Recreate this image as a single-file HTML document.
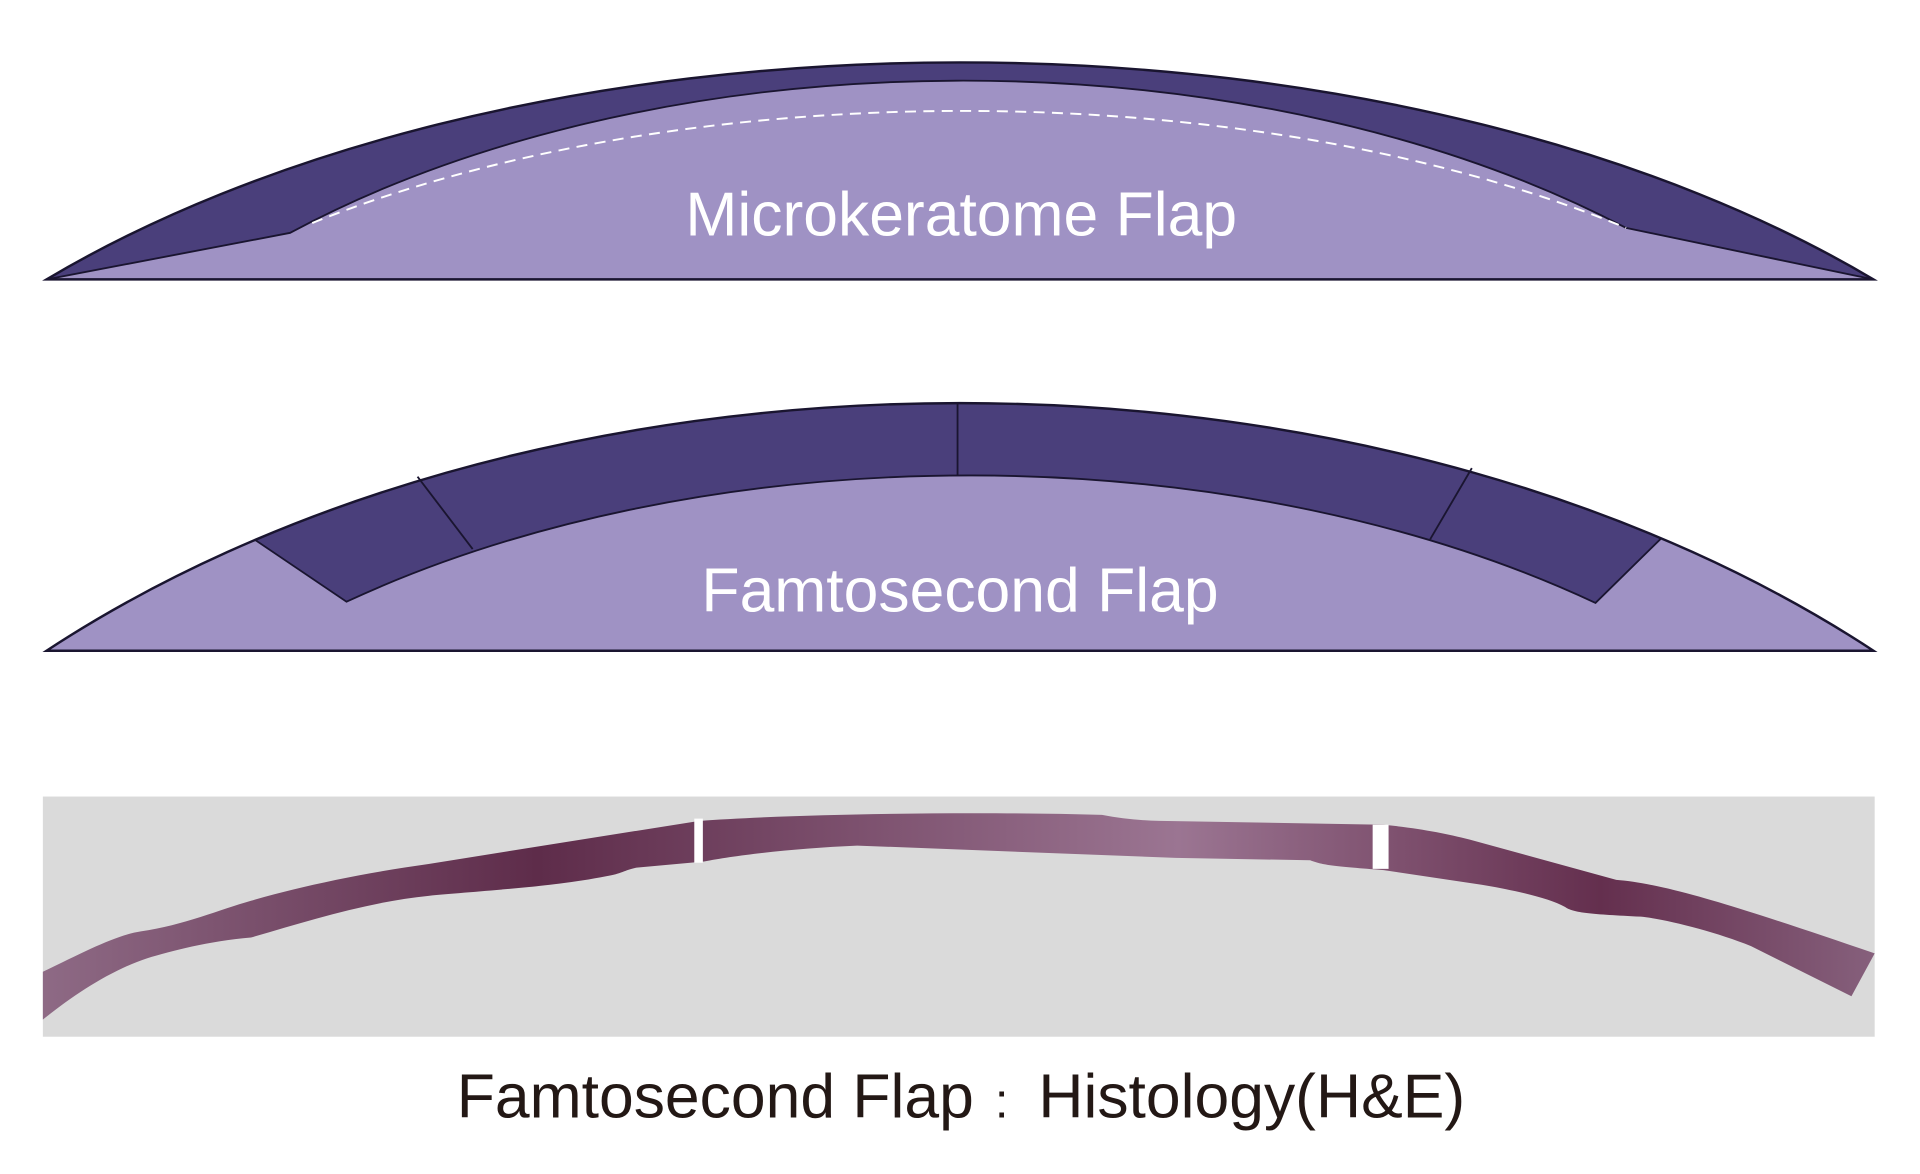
<!DOCTYPE html>
<html><head><meta charset="utf-8"><style>
html,body{margin:0;padding:0;background:#fff;}
svg{display:block}
</style></head><body>
<svg width="1920" height="1174" viewBox="0 0 1568 958" preserveAspectRatio="none" xmlns="http://www.w3.org/2000/svg">
<defs>
<clipPath id="c1"><path d="M38,228 A1000 530 0 0 1 1530,228 Z"/></clipPath>
<clipPath id="c2"><path d="M38,531 A1050 682 0 0 1 1530,531 Z"/></clipPath>
<linearGradient id="g" x1="35" y1="0" x2="1531" y2="0" gradientUnits="userSpaceOnUse">
<stop offset="0" stop-color="#8e6a85"/>
<stop offset="0.27" stop-color="#5e2c4a"/>
<stop offset="0.62" stop-color="#9b7592"/>
<stop offset="0.85" stop-color="#642f4e"/>
<stop offset="1" stop-color="#86607c"/>
</linearGradient>
</defs>
<!-- top -->
<path d="M38,228 A1000 530 0 0 1 1530,228 Z" fill="#9f92c4"/>
<path clip-path="url(#c1)" d="M38,228 L237,190 A800 455 0 0 1 1328,186 L1530,228 L1560,0 L10,0 Z" fill="#4a3f7b" stroke="#1a1530" stroke-width="1.5"/>
<path d="M38,228 A1000 530 0 0 1 1530,228 Z" fill="none" stroke="#1a1530" stroke-width="2"/>
<path d="M255,182 A800 362 0 0 1 1328,186" fill="none" stroke="#fff" stroke-width="1.6" stroke-dasharray="9,6"/>
<text x="785" y="192" text-anchor="middle" font-family="Liberation Sans, sans-serif" font-size="51" fill="#fff">Microkeratome Flap</text>
<!-- middle -->
<path d="M38,531 A1050 682 0 0 1 1530,531 Z" fill="#9f92c4"/>
<path clip-path="url(#c2)" d="M203,437 L283,491 A800 451 0 0 1 1303,492 L1360,436 L1360,250 L203,250 Z" fill="#4a3f7b" stroke="#1a1530" stroke-width="1.5"/>
<path d="M38,531 A1050 682 0 0 1 1530,531 Z" fill="none" stroke="#1a1530" stroke-width="2"/>
<line x1="341" y1="389" x2="386" y2="448" stroke="#1a1530" stroke-width="1.5"/>
<line x1="782" y1="329" x2="782" y2="388" stroke="#1a1530" stroke-width="1.5"/>
<line x1="1202" y1="382" x2="1168" y2="440" stroke="#1a1530" stroke-width="1.5"/>
<text x="784" y="499" text-anchor="middle" font-family="Liberation Sans, sans-serif" font-size="51" fill="#fff">Famtosecond Flap</text>
<!-- bottom -->
<rect x="35" y="650" width="1496" height="196" fill="#dadada"/>
<path d="M35,793 C70,776 95,763 115,760 C150,755 180,742 205,735 C250,722 300,712 350,705 L570,670 C650,664 800,662 900,665 C920,669 940,670 960,670 L1130,673 C1160,676 1180,680 1200,685 L1320,718 C1360,721 1420,740 1531,778 L1512,813 L1430,772 C1400,760 1360,750 1340,748 C1300,746 1285,745 1278,740 C1265,733 1240,727 1210,722 L1130,710 C1090,707 1080,706 1070,702 L960,700 L700,690 C650,692 600,698 575,703 L520,708 C510,710 508,713 495,715 C470,720 440,723 430,724 C400,727 370,729 350,731 C300,736 250,752 205,765 C170,768 140,776 120,782 C90,792 60,812 35,832 Z" fill="url(#g)"/>
<rect x="567" y="668" width="7" height="36" fill="#fff"/>
<rect x="1121" y="673" width="13" height="36" fill="#fff"/>
<text x="373" y="912" font-family="Liberation Sans, sans-serif" font-size="51" fill="#231815">Famtosecond Flap</text>
<text x="818" y="912" text-anchor="middle" font-family="Liberation Sans, sans-serif" font-size="40" fill="#231815">:</text>
<text x="848" y="912" font-family="Liberation Sans, sans-serif" font-size="51" fill="#231815">Histology(H&amp;E)</text>
</svg>
</body></html>
